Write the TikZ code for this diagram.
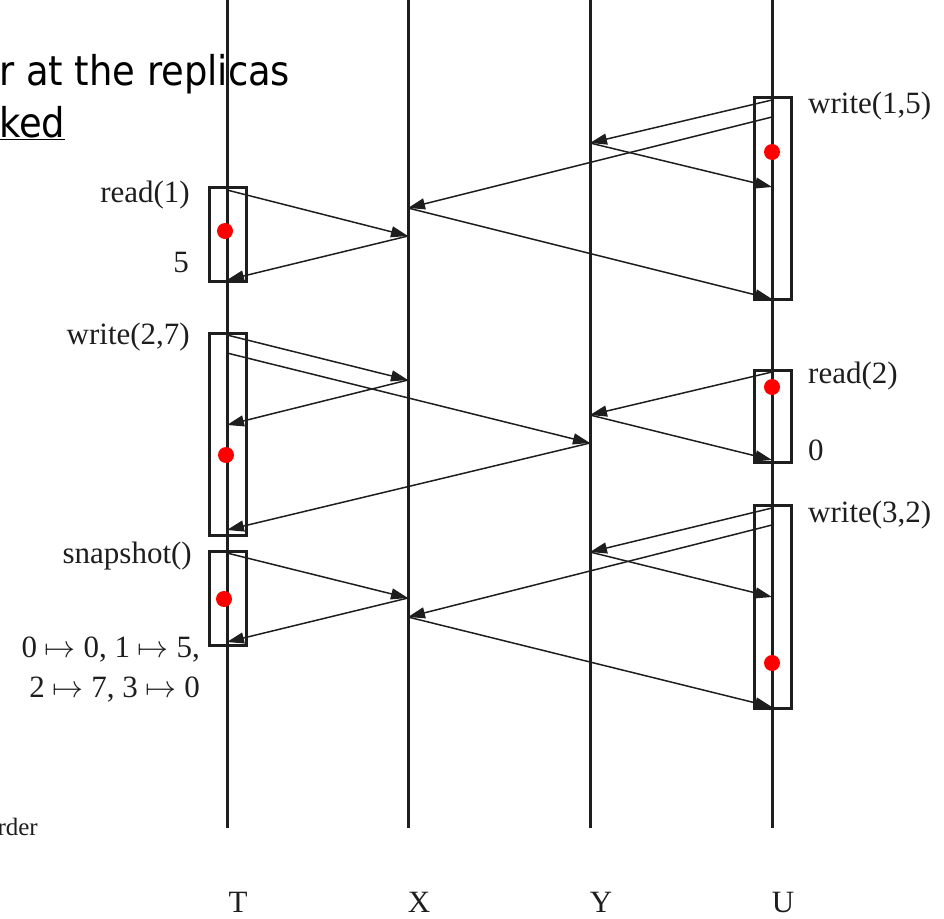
\RequirePackage{fix-cm}
\documentclass[tikz,border=0pt]{standalone}
\usepackage{fontspec}
\setmainfont{Liberation Serif}
\newfontfamily\slidefont{DejaVu Sans Condensed}
\usepackage{tikz}
\usetikzlibrary{arrows.meta,positioning}
\definecolor{inkblack}{RGB}{30,30,30}
\definecolor{markred}{RGB}{255,0,0}
\tikzset{
  base/.style={font=\fontsize{31}{36}\selectfont, text=inkblack, inner sep=0pt},
  life/.style={draw=inkblack, line width=3pt},
  opbox/.style={rectangle, draw=inkblack, line width=3pt, minimum width=37pt, inner sep=0pt},
  msg/.style={-{Triangle[length=17pt,width=11pt]}, draw=inkblack, line width=1.5pt},
  lbl/.style={base, anchor=base east},
  lbr/.style={base, anchor=base west},
  slide/.style={font=\slidefont\fontsize{41}{48}\selectfont, text=black, inner sep=0pt, anchor=base west},
}
\newcommand{\opdot}[2]{\fill[markred] (#1,#2) circle (8pt);}

\begin{document}
\begin{tikzpicture}[x=1pt,y=-1pt]
  \useasboundingbox (0,0) rectangle (944,918);
  % cut-off slide text
  \node[slide] (slideone) at (-1,85) {r at the replicas};
  \node[slide] (slidetwo) at (-1,137) {\underline{ked}};
  \node[base, font=\fontsize{25}{28}\selectfont, anchor=base east] (slideorder) at (38,835) {rder};
  % lifelines
  \foreach \n/\x in {T/227,X/408,Y/590,U/772}{
    \coordinate (\n top) at (\x,0);
    \coordinate (\n bot) at (\x,828);
    \draw[life] (\n top) -- (\n bot);
    \node[base, anchor=base] (\n lab) at (\x+11,912) {\n};
  }
  % operation boxes
  \node[opbox, minimum height=94pt]  (rdone)  at (227.5,234) {};
  \node[opbox, minimum height=202pt] (wrtwo)  at (227.5,434) {};
  \node[opbox, minimum height=94pt]  (snap)   at (227.5,598) {};
  \node[opbox, minimum height=202pt] (wrone)  at (773,198) {};
  \node[opbox, minimum height=92pt]  (rdtwo)  at (773,416) {};
  \node[opbox, minimum height=203pt] (wrthr)  at (773,606.5) {};
  % message end points
  \foreach \n/\x/\y in {u100/772/100,u117/772/117,y143/590/143,u187/772/187,x208/408/208,u299/772/299,
     t190/227/190,x236/408/236,t280/227/280,
     t335/227/335,x380/408/380,t353/227/353,y443/590/443,t425/227/425,t530/227/530,
     u372/772/372,y415/590/415,u460/772/460,
     t553/227/553,x598/408/598,t642/227/642,
     u508/772/508,y552/590/552,u525/772/525,x617/408/617,u597/772/597,u707/772/707}{
    \coordinate (\n) at (\x,\y);
  }
  % messages
  \foreach \a/\b in {u100/y143,u117/x208,y143/u187,x208/u299,
     t190/x236,x236/t280,
     t335/x380,t353/y443,x380/t425,y443/t530,
     u372/y415,y415/u460,
     t553/x598,x598/t642,
     u508/y552,u525/x617,y552/u597,x617/u707}{
    \draw[msg] (\a) -- (\b);
  }
  % operation labels
  \node[lbl] (rdonelab) at (190,202) {read(1)};
  \node[lbl] (rdoneres) at (189,272) {5};
  \node[lbl] (wrtwolab) at (190,344) {write(2,7)};
  \node[lbl] (snaplab)  at (192,563) {snapshot()};
  \node[lbl] (snapresa) at (200,657) {0 $\mapsto$ 0, 1 $\mapsto$ 5,};
  \node[lbl] (snapresb) at (200,697) {2 $\mapsto$ 7, 3 $\mapsto$ 0};
  \node[lbr] (wronelab) at (808,113) {write(1,5)};
  \node[lbr] (rdtwolab) at (808,383) {read(2)};
  \node[lbr] (rdtwores) at (808,460) {0};
  \node[lbr] (wrthrlab) at (808,522) {write(3,2)};
  % linearization points
  \opdot{772}{152}
  \opdot{225}{231}
  \opdot{772}{387}
  \opdot{226}{455}
  \opdot{224}{599}
  \opdot{772}{663}
\end{tikzpicture}
\end{document}
